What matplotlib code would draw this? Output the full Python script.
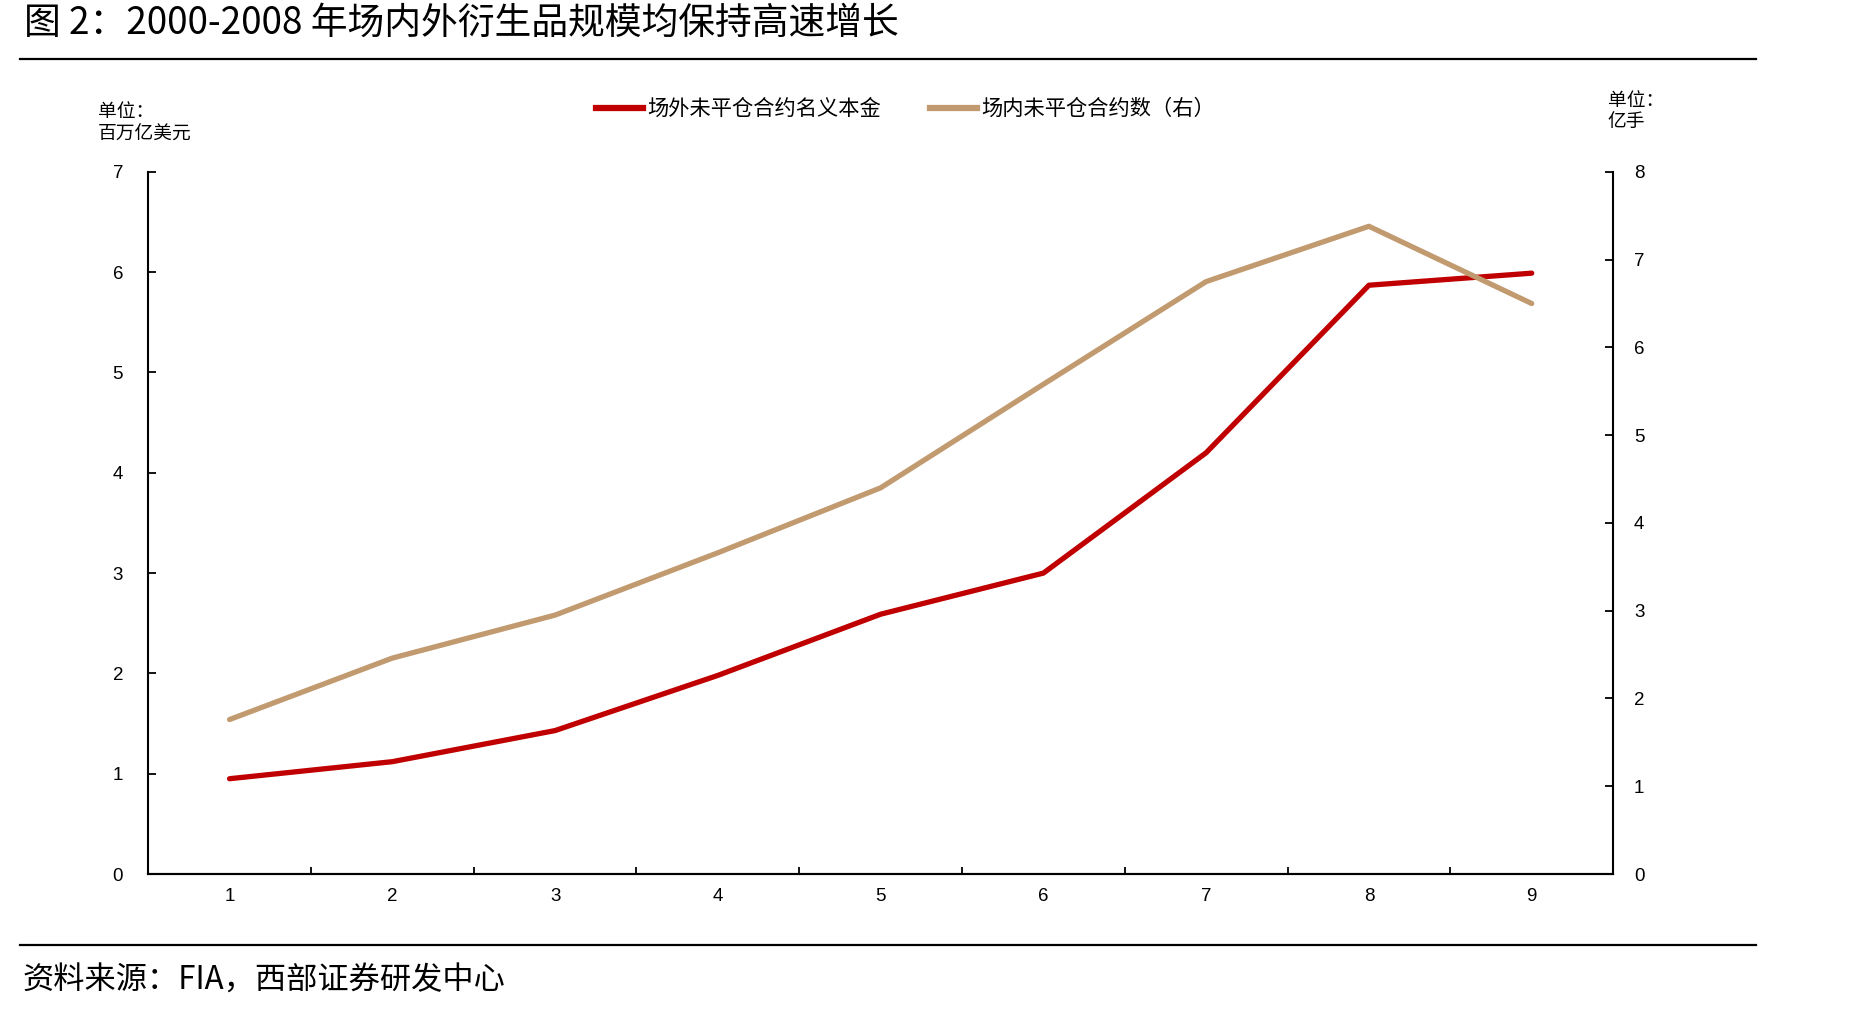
import numpy as np
import matplotlib
matplotlib.use("Agg")
import matplotlib.pyplot as plt
from matplotlib.lines import Line2D

plt.rcParams['font.family'] = ['Noto Sans CJK SC', 'DejaVu Sans']

# data
x_labels = ["1", "2", "3", "4", "5", "6", "7", "8", "9"]
otc_notional = [0.95, 1.12, 1.43, 1.98, 2.59, 3.00, 4.20, 5.87, 5.99]   # 百万亿美元
exch_contracts = [1.76, 2.46, 2.95, 3.66, 4.40, 5.58, 6.75, 7.38, 6.50]  # 亿手

red = "#C00000"
tan = "#C19A6F"
num_font = "Liberation Sans"

fig = plt.figure(figsize=(18.52, 10.11), dpi=100)
ax = fig.add_axes([0.080, 0.1355, 0.791, 0.6945])
ax2 = ax.twinx()

x = np.arange(1, len(x_labels) + 1)
ax.plot(x, otc_notional, color=red, lw=3.8, solid_capstyle="round", zorder=3)
ax2.plot(x, exch_contracts, color=tan, lw=3.8, solid_capstyle="round", zorder=3)

ax.set_xlim(0.5, len(x_labels) + 0.5)
ax.set_ylim(0, 7)
ax2.set_ylim(0, 8)
ax.set_yticks(range(0, 8))
ax2.set_yticks(range(0, 9))

# category labels centred, ticks between categories
ax.set_xticks(x)
ax.set_xticklabels(x_labels, fontfamily=num_font, fontsize=13.5)
ax.set_xticks(np.arange(1.5, len(x_labels)), minor=True)
ax.tick_params(axis="x", which="major", length=0, pad=10)
ax.tick_params(axis="x", which="minor", direction="in", length=5, width=1.3)

ax.tick_params(axis="y", direction="in", length=6, width=1.3, pad=18, labelsize=13.5)
ax2.tick_params(axis="y", direction="in", length=6, width=1.3, pad=15, labelsize=13.5)
for lab in ax.get_yticklabels() + ax2.get_yticklabels():
    lab.set_fontfamily(num_font)

for a in (ax, ax2):
    a.spines["top"].set_visible(False)
    for s in ("left", "right", "bottom"):
        a.spines[s].set_linewidth(1.5)
ax2.spines["left"].set_visible(False)
ax.spines["right"].set_visible(False)

# legend
handles = [Line2D([], [], color=red, lw=4.5),
           Line2D([], [], color=tan, lw=4.5)]
fig.legend(handles, ["场外未平仓合约名义本金", "场内未平仓合约数（右）"],
           loc="center", bbox_to_anchor=(0.489, 0.892), ncol=2, frameon=False,
           fontsize=15.3, handlelength=2.2, handletextpad=0.2, columnspacing=2.3)

# unit labels
fig.text(0.053, 0.890, "单位：", fontsize=13.5, va="center")
fig.text(0.053, 0.867, "百万亿美元", fontsize=13.5, va="center")
fig.text(0.868, 0.901, "单位：", fontsize=13.5, va="center")
fig.text(0.868, 0.880, "亿手", fontsize=13.5, va="center")

# title, source and rules
fig.text(0.013, 0.977, "图 2：2000-2008 年场内外衍生品规模均保持高速增长",
         fontsize=26.5, va="center")
fig.text(0.012, 0.030, "资料来源：FIA，西部证券研发中心", fontsize=22.5, va="center")
fig.add_artist(Line2D([0.011, 0.948], [0.9415, 0.9415], color="black", lw=1.6))
fig.add_artist(Line2D([0.011, 0.948], [0.0655, 0.0655], color="black", lw=1.6))

fig.savefig("out.png", dpi=100)
plt.close(fig)
